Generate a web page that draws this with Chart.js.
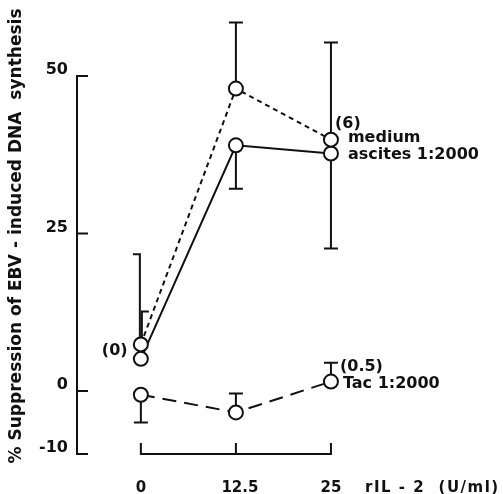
<!DOCTYPE html>
<html>
<head>
<meta charset="utf-8">
<script src="https://cdn.jsdelivr.net/npm/chart.js@4/dist/chart.umd.min.js"></script>
<style>
html,body{margin:0;padding:0;background:#fff;}
canvas{display:block;}
</style>
</head>
<body>
<canvas id="c" width="503" height="494"></canvas>
<script>
// ---- data ----
const doses = [0, 12.5, 25];
const xTickLabels = ['0', '12.5', '25'];
const xAxisTitle = 'rIL - 2  (U/ml)';
const yTicks = [50, 25, 0, -10];
const yAxisTitle = '% Suppression of EBV - induced DNA  synthesis';

const mediumMean = [7.4, 48.0, 39.9];
const mediumUpper = [21.7, 58.5, 55.3];
const mediumLower = [null, null, null];

const ascitesMean = [5.1, 39.0, 37.7];
const ascitesUpper = [12.6, null, null];
const ascitesLower = [null, 32.1, 22.6];

const tacMean = [-0.6, -3.4, 1.5];
const tacUpper = [null, -0.4, 4.5];
const tacLower = [-5.0, null, null];

const labelConcHigh = '(6)';
const labelMedium = 'medium';
const labelAscites = 'ascites 1:2000';
const labelConcZero = '(0)';
const labelConcTac = '(0.5)';
const labelTac = 'Tac 1:2000';

const FONT = '"DejaVu Sans", Verdana, sans-serif';

function pts(ys){ return doses.map((x,i)=>({x:x, y:ys[i]})); }

const errorBars = [
  {upper: mediumUpper, lower: mediumLower, caps: ['left','full','full'], dx: [-1,0,0]},
  {upper: ascitesUpper, lower: ascitesLower, caps: ['right','full','full'], dx: [1,0,0]},
  {upper: tacUpper, lower: tacLower, caps: ['full','full','full'], dx: [0,0,0]}
];

const customPlugin = {
  id: 'custom',
  beforeDatasetsDraw(chart){
    const ctx = chart.ctx;
    const xs = chart.scales.x, ys = chart.scales.y;
    ctx.save();
    ctx.strokeStyle = '#111';
    ctx.lineWidth = 2;
    ctx.lineCap = 'butt';
    // y axis bracket
    const yTop = ys.getPixelForValue(50), yBot = ys.getPixelForValue(-10);
    const axX = chart.chartArea.left;
    ctx.beginPath();
    ctx.moveTo(axX, yTop); ctx.lineTo(axX, yBot);
    yTicks.forEach(v=>{ const p = ys.getPixelForValue(v); ctx.moveTo(axX-1, p); ctx.lineTo(axX+11, p); });
    ctx.stroke();
    // x axis bracket
    const xl = xs.getPixelForValue(doses[0]), xr = xs.getPixelForValue(doses[doses.length-1]);
    const by = yBot;
    ctx.beginPath();
    ctx.moveTo(xl, by); ctx.lineTo(xr, by);
    doses.forEach(d=>{ const p = xs.getPixelForValue(d); ctx.moveTo(p, by+1); ctx.lineTo(p, by-11); });
    ctx.stroke();
    // error bars
    chart.data.datasets.forEach((ds, di)=>{
      const eb = errorBars[di];
      doses.forEach((d,i)=>{
        const px = xs.getPixelForValue(d) + eb.dx[i];
        const py = ys.getPixelForValue(ds.data[i].y);
        [eb.upper[i], eb.lower[i]].forEach(v=>{
          if (v === null || v === undefined) return;
          const pv = ys.getPixelForValue(v);
          ctx.beginPath();
          ctx.moveTo(px, py); ctx.lineTo(px, pv);
          const c = eb.caps[i];
          const l = c === 'right' ? px - 1 : px - 7;
          const r = c === 'left' ? px + 1 : px + 7;
          ctx.moveTo(l, pv); ctx.lineTo(r, pv);
          ctx.stroke();
        });
      });
    });
    ctx.restore();
  },
  afterDatasetsDraw(chart){
    const ctx = chart.ctx;
    const xs = chart.scales.x, ys = chart.scales.y;
    ctx.save();
    ctx.fillStyle = '#111';
    // y tick labels
    ctx.font = 'bold 16px ' + FONT;
    ctx.textAlign = 'right';
    ctx.textBaseline = 'middle';
    yTicks.forEach(v=>{ ctx.fillText(String(v), 68, ys.getPixelForValue(v) - 6); });
    // x tick labels
    ctx.font = 'bold 15px ' + FONT;
    ctx.textAlign = 'center';
    ctx.textBaseline = 'alphabetic';
    doses.forEach((d,i)=>{ ctx.fillText(xTickLabels[i], xs.getPixelForValue(d) + (i===1?4:0), 492); });
    ctx.textAlign = 'left';
    ctx.letterSpacing = '1.5px';
    ctx.fillText(xAxisTitle, 365, 492);
    ctx.letterSpacing = '0px';
    // y title
    ctx.save();
    ctx.translate(17, 236);
    ctx.rotate(-Math.PI/2);
    ctx.textAlign = 'center';
    ctx.textBaseline = 'middle';
    ctx.font = 'bold 16px ' + FONT;
    const w = ctx.measureText(yAxisTitle).width;
    const fs = 16 * 455 / w;
    ctx.font = 'bold ' + fs.toFixed(2) + 'px ' + FONT;
    ctx.fillText(yAxisTitle, 0, 0);
    ctx.restore();
    // annotations
    ctx.font = 'bold 16px ' + FONT;
    ctx.textAlign = 'left';
    ctx.textBaseline = 'middle';
    const x25 = xs.getPixelForValue(doses[2]);
    const x0 = xs.getPixelForValue(doses[0]);
    const yMed = ys.getPixelForValue(mediumMean[2]);
    const yAsc = ys.getPixelForValue(ascitesMean[2]);
    ctx.fillText(labelConcHigh, x25 + 4, yMed - 16);
    ctx.fillText(labelMedium, x25 + 17, yMed - 2);
    ctx.fillText(labelAscites, x25 + 17, yAsc + 1);
    ctx.fillText(labelConcZero, x0 - 39, ys.getPixelForValue(mediumMean[0]) + 6);
    const yTac = ys.getPixelForValue(tacMean[2]);
    ctx.fillText(labelConcTac, x25 + 9, yTac - 15);
    ctx.fillText(labelTac, x25 + 12, yTac + 2);
    ctx.restore();
  }
};

const pointStyle = {
  pointRadius: 7, pointHoverRadius: 7, pointBorderWidth: 2,
  pointBackgroundColor: '#fff', pointBorderColor: '#111',
  borderColor: '#111', borderWidth: 2, fill: false, tension: 0
};

new Chart(document.getElementById('c'), {
  type: 'line',
  data: {
    datasets: [
      Object.assign({label: labelMedium, data: pts(mediumMean)}, pointStyle, {borderDash:[5,4]}),
      Object.assign({label: labelAscites, data: pts(ascitesMean)}, pointStyle),
      Object.assign({label: labelTac, data: pts(tacMean)}, pointStyle, {borderDash:[14,8]})
    ]
  },
  options: {
    responsive: false,
    animation: false,
    events: [],
    layout: {padding: {left: 77, right: 58, top: 13, bottom: 40}},
    plugins: {legend: {display: false}, tooltip: {enabled: false}},
    scales: {
      x: {type: 'linear', min: -8.4, max: 40, display: false},
      y: {type: 'linear', min: -10, max: 60, display: false}
    }
  },
  plugins: [customPlugin]
});
</script>
</body>
</html>
